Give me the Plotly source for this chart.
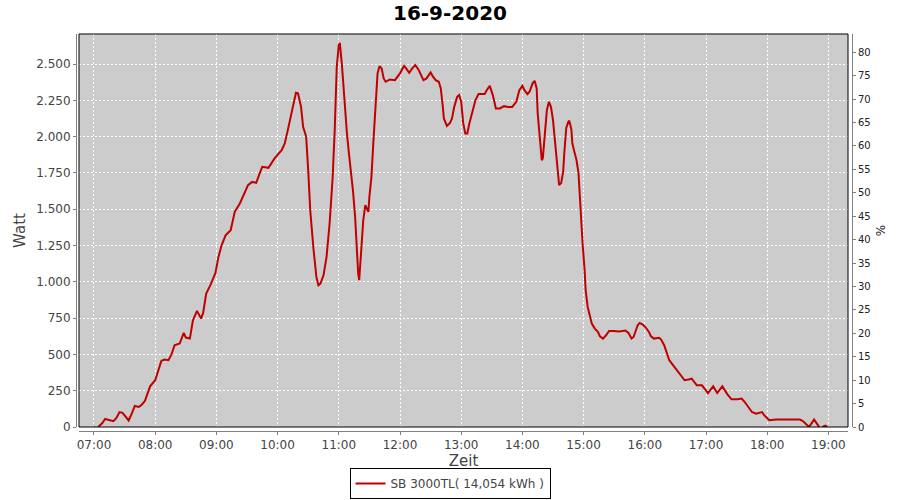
import plotly.graph_objects as go

DAY = "2020-09-16 "

times = ["07:00","07:01",None,"07:04","07:08","07:11","07:16","07:19","07:22","07:25","07:28","07:31","07:34","07:37",
         "07:40","07:44","07:47","07:50","07:53","07:55","08:00","08:03","08:06","08:09","08:13","08:16","08:19",
         "08:24","08:28","08:30","08:34","08:37","08:41","08:45","08:47","08:50","08:54","08:59","09:02","09:05",
         "09:09","09:14","09:18","09:23","09:26","09:31","09:35","09:39","09:43","09:45","09:51","09:57","10:04",
         "10:07","10:10","10:13","10:16","10:18","10:20","10:23","10:25","10:28","10:30","10:32","10:35","10:38",
         "10:40","10:42","10:45","10:48","10:51","10:54","10:56","10:58","11:00","11:01","11:03","11:05","11:07",
         "11:08","11:10","11:12","11:14","11:16","11:17","11:19","11:20","11:21","11:22","11:24","11:26","11:27",
         "11:29","11:30","11:32","11:34","11:36","11:38","11:40","11:42","11:44","11:46","11:50","11:55","12:00",
         "12:04","12:06","12:09","12:12","12:15","12:18","12:21","12:23","12:26","12:30","12:32","12:35","12:38",
         "12:40","12:42","12:43","12:46","12:49","12:51","12:53","12:56","12:58","13:00","13:02","13:04","13:06",
         "13:08","13:11","13:14","13:17","13:23","13:25","13:28","13:31","13:34","13:38","13:42","13:46","13:50",
         "13:54","13:57","14:00","14:02","14:05","14:07","14:10","14:12","14:14","14:15","14:17","14:19","14:20",
         "14:22","14:24","14:26","14:28","14:30","14:32","14:34","14:36","14:38","14:40","14:41","14:43","14:45",
         "14:46","14:48","14:49","14:51","14:53","14:55","14:57","14:59","15:01","15:02","15:04","15:06","15:08",
         "15:11","15:14","15:16","15:19","15:22","15:25","15:29","15:35","15:41","15:44","15:47","15:49","15:53",
         "15:55","15:58","16:01","16:04","16:06","16:09","16:14","16:16","16:19","16:24","16:30","16:35","16:39",
         "16:43","16:46","16:51","16:56","17:02","17:07","17:11","17:16","17:21","17:25","17:31","17:35","17:38",
         "17:45","17:49","17:55","17:57","18:02","18:09","18:32","18:35","18:41","18:46","18:51",None,"18:54",
         "18:56","18:57","18:59"]

watt = [0,0,None,0,25,55,45,40,62,103,98,70,45,92,
        145,138,155,180,240,280,322,385,455,465,460,500,563,
        575,648,616,609,735,800,747,786,919,975,1060,1170,1250,
        1320,1355,1482,1540,1585,1666,1688,1682,1757,1792,1785,1850,1907,
        1953,2045,2136,2240,2302,2298,2205,2068,1999,1769,1493,1240,1034,
        977,988,1045,1172,1402,1723,2045,2481,2631,2646,2500,2300,2150,
        2022,1880,1760,1620,1447,1300,1057,1011,1103,1218,1425,1528,1516,
        1482,1585,1723,1976,2229,2436,2486,2470,2401,2378,2394,2389,2436,
        2488,2470,2440,2470,2493,2463,2412,2389,2401,2443,2417,2389,2378,
        2332,2205,2125,2074,2095,2125,2201,2274,2286,2240,2091,2022,2022,
        2091,2183,2252,2293,2293,2320,2350,2286,2194,2194,2210,2205,2205,
        2240,2320,2350,2320,2293,2309,2367,2385,2332,2160,1999,1838,1850,
        1999,2183,2240,2205,2114,1976,1792,1666,1680,1760,1880,2060,2102,
        2109,2050,1953,1895,1840,1750,1471,1264,1080,942,827,758,713,
        678,655,625,609,632,662,662,658,664,648,609,620,701,
        717,705,685,655,625,609,614,602,563,460,402,356,322,
        327,333,287,287,234,280,234,280,225,191,191,196,172,
        103,92,103,81,46,51,51,41,0,51,0,None,0,
        6,10,0]

x_vals = [DAY + t if t else None for t in times]

series_name = "SB 3000TL( 14,054 kWh )"
chart_title = "16-9-2020"
watt_ticks = list(range(0, 2501, 250))
pct_ticks = list(range(0, 81, 5))

fig = go.Figure()
fig.add_trace(go.Scatter(
    x=x_vals, y=watt, mode="lines", name=series_name,
    line=dict(color="#C00000", width=2), connectgaps=False,
    hoverinfo="x+y"))
fig.add_trace(go.Scatter(x=[DAY + "12:00"], y=[None], yaxis="y2", mode="lines",
                         showlegend=False, hoverinfo="skip"))

axis_grey = "#808080"
label_col = "#444444"

fig.update_layout(
    width=900, height=500,
    margin=dict(l=76, r=48, t=34, b=69, autoexpand=False),
    paper_bgcolor="white", plot_bgcolor="#CCCCCC",
    font=dict(family="DejaVu Sans", size=12, color=label_col),
    separators=",.",
    title=dict(text="<b>" + chart_title + "</b>", x=0.5, xref="container", xanchor="center",
               y=1 - 13 / 500, yanchor="middle", yref="container",
               font=dict(family="DejaVu Sans", size=20, color="black"), automargin=False),
    xaxis=dict(
        type="date", domain=[3 / 776, 772 / 776], anchor="free", position=0,
        range=[DAY + "06:45:18", DAY + "19:19:13"],
        tick0=DAY + "07:00", dtick=3600000, tickformat="%H:%M",
        showline=True, linecolor=axis_grey, linewidth=1,
        ticks="outside", ticklen=3, tickcolor=axis_grey, tickwidth=1,
        showgrid=True, gridcolor="white", griddash="2px,2px", gridwidth=1,
        zeroline=False, tickfont=dict(size=12, color=label_col), automargin=False,
        title=dict(text="Zeit", font=dict(size=15, color=label_col), standoff=3),
    ),
    yaxis=dict(
        domain=[4 / 397, 1], anchor="free", position=0,
        range=[0, 2707], tickvals=watt_ticks, tickformat=",d",
        showline=True, linecolor=axis_grey, linewidth=1,
        ticks="outside", ticklen=3, tickcolor=axis_grey, tickwidth=1,
        showgrid=True, gridcolor="white", griddash="2px,2px", gridwidth=1,
        zeroline=False, tickfont=dict(size=12, color=label_col), automargin=False,
        title=dict(text="Watt", font=dict(size=15, color=label_col), standoff=5),
    ),
    yaxis2=dict(
        overlaying="y", side="right", anchor="free", position=1,
        range=[0, 83.9], tickvals=pct_ticks,
        showline=True, linecolor=axis_grey, linewidth=1,
        ticks="outside", ticklen=3, tickcolor=axis_grey, tickwidth=1,
        showgrid=False, zeroline=False, automargin=False,
        tickfont=dict(size=10, color="#222222"),
        title=dict(text="%", font=dict(size=12, color="#222222"), standoff=6),
    ),
    legend=dict(
        x=(450 - 76) / 776, xanchor="center", y=(431 - 499) / 397, yanchor="bottom",
        orientation="h", bordercolor="black", borderwidth=1, bgcolor="white",
        font=dict(size=12, color=label_col), itemwidth=30,
    ),
    showlegend=True,
    shapes=[dict(type="rect", xref="x domain", yref="y domain", x0=0, x1=1, y0=0, y1=1,
                 line=dict(color="black", width=1), fillcolor="rgba(0,0,0,0)", layer="above")],
)

fig.write_html("out.html", config={"displayModeBar": False},
               post_script="document.body.style.margin='0';")
